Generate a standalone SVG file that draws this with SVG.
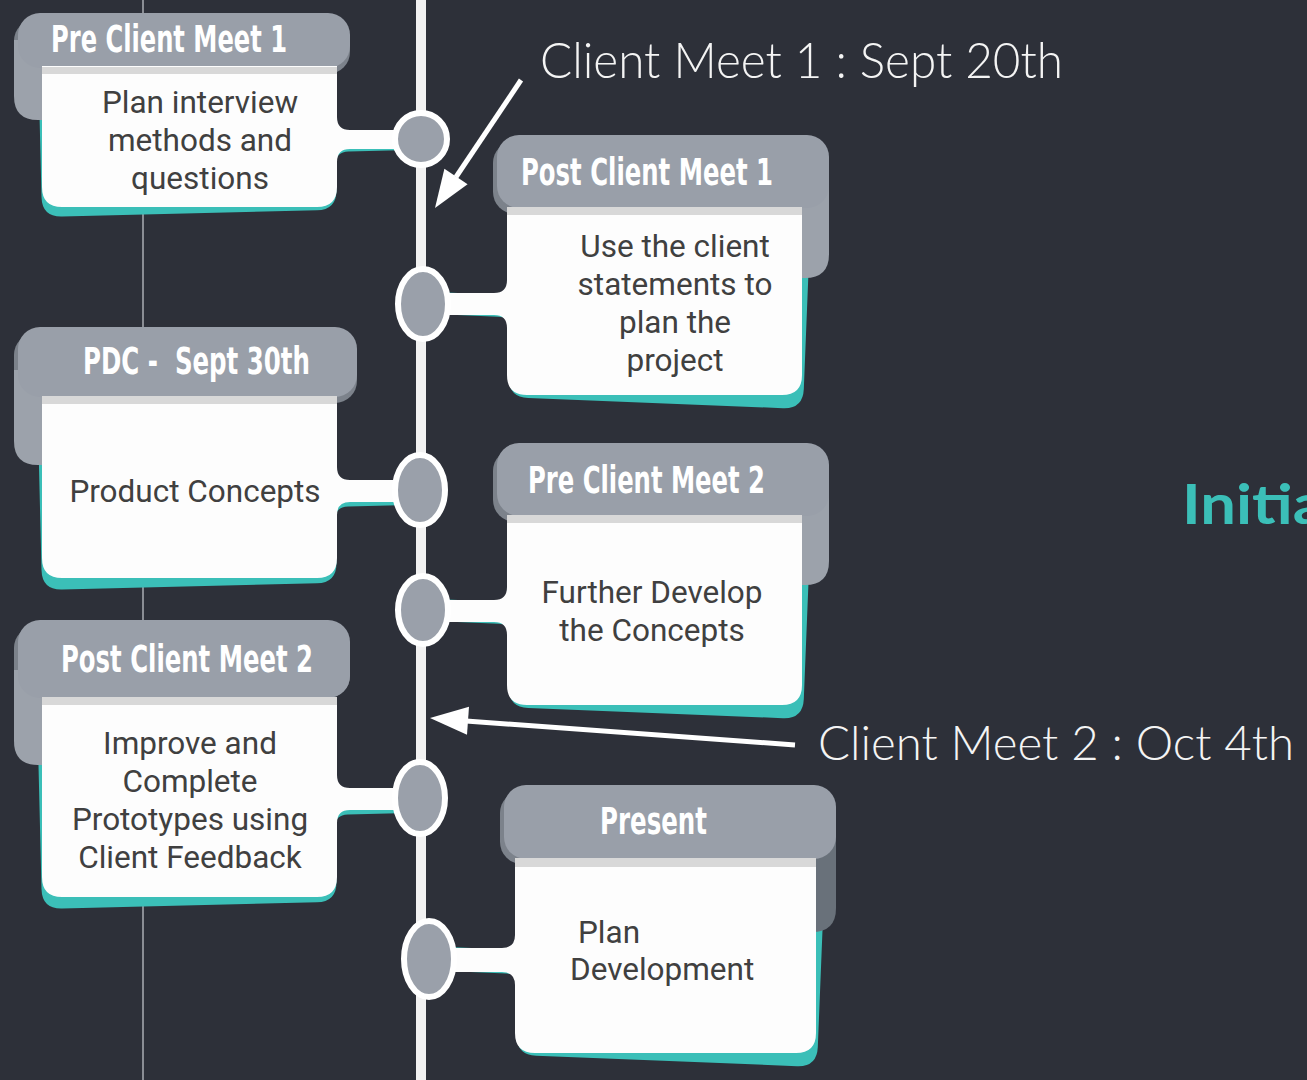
<svg xmlns="http://www.w3.org/2000/svg" width="1307" height="1080" viewBox="0 0 1307 1080">
<style>
.bg{fill:#2d3039}
.hdr{fill:#999fa9}
.hdrsh{fill:#7c828b}
.curl{fill:#9ca2ab}
.body{fill:#fdfdfd}
.teal{fill:#3bbfb8}
.strip{fill:#d8d8d8}
.title{font-family:"Liberation Sans Narrow","DejaVu Sans Condensed","Liberation Sans",sans-serif;font-weight:bold;font-size:37px;fill:#ffffff}
.txt{font-family:Roboto,"Liberation Sans",sans-serif;font-size:31.5px;fill:#404040;text-anchor:middle}
.dot{fill:#9aa0aa;stroke:#ffffff;stroke-width:6}
.call{font-family:Lato,"Open Sans",sans-serif;font-weight:300;font-size:50px;fill:#f4f4f4}
.arrow{stroke:#ffffff;stroke-width:5;fill:none}
.head{fill:#ffffff}
</style>
<rect class="bg" x="0" y="0" width="1307" height="1080"/>
<line x1="143" y1="0" x2="143" y2="1080" stroke="#8a8d94" stroke-width="2"/>
<line x1="421" y1="0" x2="421" y2="1080" stroke="#f2f2f2" stroke-width="10"/>

<g id="card-pre-client-meet-1">
  <path class="teal" transform="translate(0,10) rotate(-1.4 42 207)" d="M42,66 H337 V117 Q337,130 350,130 H421 V149 H350 Q337,149 337,162 V187 Q337,207 317,207 H62 Q42,207 42,187 Z"/>
  <rect class="hdrsh" x="14" y="19" width="336" height="55" rx="22"/>
  <path class="curl" d="M14,40 H60 V120 H38 Q14,120 14,96 Z"/>
  <rect class="hdr" x="18" y="13" width="332" height="55" rx="22"/>
  <path class="body" d="M42,66 H337 V117 Q337,130 350,130 H421 V149 H350 Q337,149 337,162 V187 Q337,207 317,207 H62 Q42,207 42,187 Z"/>
  <rect class="strip" x="42" y="67" width="295" height="7"/>
  <text class="title" x="51" y="52" textLength="236" lengthAdjust="spacingAndGlyphs">Pre Client Meet 1</text>
  <text class="txt" x="200" y="113">Plan interview</text>
  <text class="txt" x="200" y="151">methods and</text>
  <text class="txt" x="200" y="189">questions</text>
</g>

<g id="card-post-client-meet-1">
  <path class="teal" transform="translate(1,14) rotate(2.3 802 395)" d="M507,207 H802 V375 Q802,395 782,395 H527 Q507,395 507,375 V328 Q507,315 494,315 H423 V293 H494 Q507,293 507,280 Z"/>
  <rect class="hdrsh" x="493" y="141" width="336" height="73" rx="22"/>
  <path class="curl" d="M829,180 V254 Q829,278 805,278 H780 V180 Z"/>
  <rect class="hdr" x="497" y="135" width="332" height="73" rx="22"/>
  <path class="body" d="M507,207 H802 V375 Q802,395 782,395 H527 Q507,395 507,375 V328 Q507,315 494,315 H423 V293 H494 Q507,293 507,280 Z"/>
  <rect class="strip" x="507" y="207" width="295" height="8"/>
  <text class="title" x="521" y="185" textLength="252" lengthAdjust="spacingAndGlyphs">Post Client Meet 1</text>
  <text class="txt" x="675" y="257">Use the client</text>
  <text class="txt" x="675" y="295">statements to</text>
  <text class="txt" x="675" y="333">plan the</text>
  <text class="txt" x="675" y="371">project</text>
</g>

<g id="card-pdc">
  <path class="teal" transform="translate(0,12) rotate(-1.4 42 578)" d="M42,396 H337 V467 Q337,480 350,480 H420 V502 H350 Q337,502 337,515 V558 Q337,578 317,578 H62 Q42,578 42,558 Z"/>
  <rect class="hdrsh" x="14" y="333" width="343" height="70" rx="22"/>
  <path class="curl" d="M14,370 H60 V465 H38 Q14,465 14,441 Z"/>
  <rect class="hdr" x="18" y="327" width="339" height="70" rx="22"/>
  <path class="body" d="M42,396 H337 V467 Q337,480 350,480 H420 V502 H350 Q337,502 337,515 V558 Q337,578 317,578 H62 Q42,578 42,558 Z"/>
  <rect class="strip" x="42" y="396" width="295" height="8"/>
  <text class="title" x="83" y="374" textLength="227" lengthAdjust="spacingAndGlyphs" xml:space="preserve">PDC -  Sept 30th</text>
  <text class="txt" x="195" y="502">Product Concepts</text>
</g>

<g id="card-pre-client-meet-2">
  <path class="teal" transform="translate(1,14) rotate(2.3 802 705)" d="M507,515 H802 V685 Q802,705 782,705 H527 Q507,705 507,685 V635 Q507,622 494,622 H423 V600 H494 Q507,600 507,587 Z"/>
  <rect class="hdrsh" x="493" y="449" width="336" height="73" rx="22"/>
  <path class="curl" d="M829,490 V561 Q829,585 805,585 H780 V490 Z"/>
  <rect class="hdr" x="497" y="443" width="332" height="73" rx="22"/>
  <path class="body" d="M507,515 H802 V685 Q802,705 782,705 H527 Q507,705 507,685 V635 Q507,622 494,622 H423 V600 H494 Q507,600 507,587 Z"/>
  <rect class="strip" x="507" y="515" width="295" height="8"/>
  <text class="title" x="528" y="493" textLength="237" lengthAdjust="spacingAndGlyphs">Pre Client Meet 2</text>
  <text class="txt" x="652" y="603">Further Develop</text>
  <text class="txt" x="652" y="641">the Concepts</text>
</g>

<g id="card-post-client-meet-2">
  <path class="teal" transform="translate(0,12) rotate(-1.4 42 897)" d="M42,697 H337 V775 Q337,788 350,788 H420 V810 H350 Q337,810 337,823 V877 Q337,897 317,897 H62 Q42,897 42,877 Z"/>
  <rect class="hdrsh" x="14" y="626" width="336" height="72" rx="22"/>
  <path class="curl" d="M14,670 H60 V765 H38 Q14,765 14,741 Z"/>
  <rect class="hdr" x="18" y="620" width="332" height="78" rx="22"/>
  <path class="body" d="M42,697 H337 V775 Q337,788 350,788 H420 V810 H350 Q337,810 337,823 V877 Q337,897 317,897 H62 Q42,897 42,877 Z"/>
  <rect class="strip" x="42" y="697" width="295" height="8"/>
  <text class="title" x="61" y="672" textLength="252" lengthAdjust="spacingAndGlyphs">Post Client Meet 2</text>
  <text class="txt" x="190" y="754">Improve and</text>
  <text class="txt" x="190" y="792">Complete</text>
  <text class="txt" x="190" y="830">Prototypes using</text>
  <text class="txt" x="190" y="868">Client Feedback</text>
</g>

<g id="card-present">
  <path class="teal" transform="translate(1,14) rotate(2.3 816 1053)" d="M515,858 H816 V1033 Q816,1053 796,1053 H535 Q515,1053 515,1033 V985 Q515,972 502,972 H430 V948 H502 Q515,948 515,935 Z"/>
  <rect class="hdrsh" x="500" y="791" width="336" height="73" rx="22"/>
  <path fill="#69717a" d="M836,830 V908 Q836,932 812,932 H790 V830 Z"/>
  <rect class="hdr" x="504" y="785" width="332" height="74" rx="22"/>
  <path class="body" d="M515,858 H816 V1033 Q816,1053 796,1053 H535 Q515,1053 515,1033 V985 Q515,972 502,972 H430 V948 H502 Q515,948 515,935 Z"/>
  <rect class="strip" x="515" y="858" width="301" height="9"/>
  <text class="title" x="600" y="834" textLength="107" lengthAdjust="spacingAndGlyphs">Present</text>
  <text class="txt" x="578" y="943" style="text-anchor:start">Plan</text>
  <text class="txt" x="570" y="980" style="text-anchor:start">Development</text>
</g>

<g id="dots">
  <circle class="dot" cx="421" cy="139" r="26"/>
  <ellipse class="dot" cx="423" cy="304" rx="25" ry="35"/>
  <ellipse class="dot" cx="420" cy="490" rx="25" ry="35"/>
  <ellipse class="dot" cx="423" cy="610" rx="25" ry="34"/>
  <ellipse class="dot" cx="420" cy="798" rx="25" ry="36"/>
  <ellipse class="dot" cx="429" cy="959" rx="25" ry="38"/>
</g>

<g id="connectors">
  <line class="arrow" x1="521" y1="80" x2="456" y2="177"/>
  <polygon class="head" points="435,208 467.6,184.3 444.4,168.7"/>
  <line class="arrow" x1="795" y1="745" x2="466" y2="721"/>
  <polygon class="head" points="430,718 467,734.8 469,706.8"/>
</g>

<g id="labels">
  <text class="call" x="540" y="78" textLength="523" lengthAdjust="spacingAndGlyphs">Client Meet 1 : Sept 20th</text>
  <text class="call" x="818" y="760" textLength="476" lengthAdjust="spacingAndGlyphs" style="font-size:48px">Client Meet 2 : Oct 4th</text>
  <text x="1182" y="524" textLength="143" lengthAdjust="spacingAndGlyphs" style="font-family:Lato,'Open Sans',sans-serif;font-weight:bold;font-size:56px;fill:#3bbfb8">Initia</text>
</g>
</svg>
